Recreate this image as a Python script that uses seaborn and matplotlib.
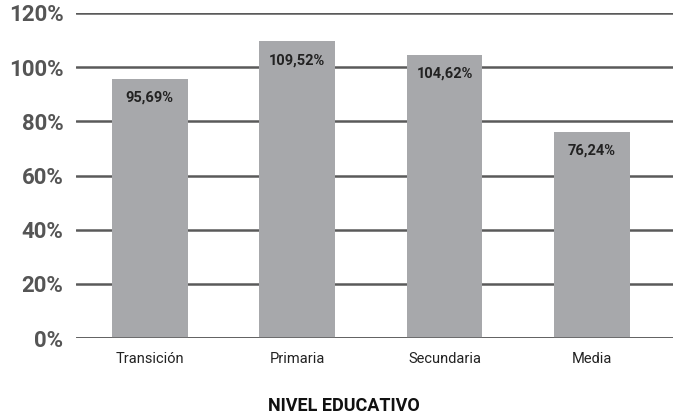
import matplotlib
matplotlib.use("Agg")
import matplotlib.pyplot as plt
import seaborn as sns
import pandas as pd

niveles = ["Transición", "Primaria", "Secundaria", "Media"]
valores = [95.69, 109.52, 104.62, 76.24]
etiquetas = ["95,69%", "109,52%", "104,62%", "76,24%"]
yticks = [0, 20, 40, 60, 80, 100, 120]

df = pd.DataFrame({"nivel": niveles, "valor": valores})

sns.set_style("white")
plt.rcParams["font.family"] = ["Roboto", "DejaVu Sans"]

fig = plt.figure(figsize=(6.73, 4.18), dpi=100)
ax = fig.add_axes([0.113, 0.191, 0.887, 0.778])

sns.barplot(data=df, x="nivel", y="valor", color="#a7a8ab", saturation=1,
            width=0.515, linewidth=0, ax=ax)
for bar in ax.containers[0]:
    bar.set_zorder(5)

# lineas horizontales detras de las barras
ax.set_axisbelow(True)
ax.yaxis.grid(True, color="#5a5a5a", lw=1.8)
ax.axhline(0, color="#5a5a5a", lw=1.8, zorder=6)

for i, (v, lab) in enumerate(zip(valores, etiquetas)):
    ax.text(i, v - 7, lab, ha="center", va="center", fontsize=10.5,
            fontweight="bold", color="#222222", zorder=7)

ax.set_ylim(0, 120)
ax.set_xlim(-0.5, 3.55)
ax.set_yticks(yticks)
ax.set_yticklabels([f"{t}%" for t in yticks], fontsize=16, fontweight="bold", color="#555555")
ax.tick_params(axis="y", length=0, pad=9)
ax.tick_params(axis="x", length=0, pad=10, labelsize=10.5, labelcolor="#222222")
for s in ax.spines.values():
    s.set_visible(False)
ax.set_ylabel("")
ax.set_xlabel("")
fig.text(0.511, 0.028, "NIVEL EDUCATIVO", ha="center", va="center",
         fontsize=13, fontweight="bold", color="#111111")

fig.savefig("out.png", dpi=100)
